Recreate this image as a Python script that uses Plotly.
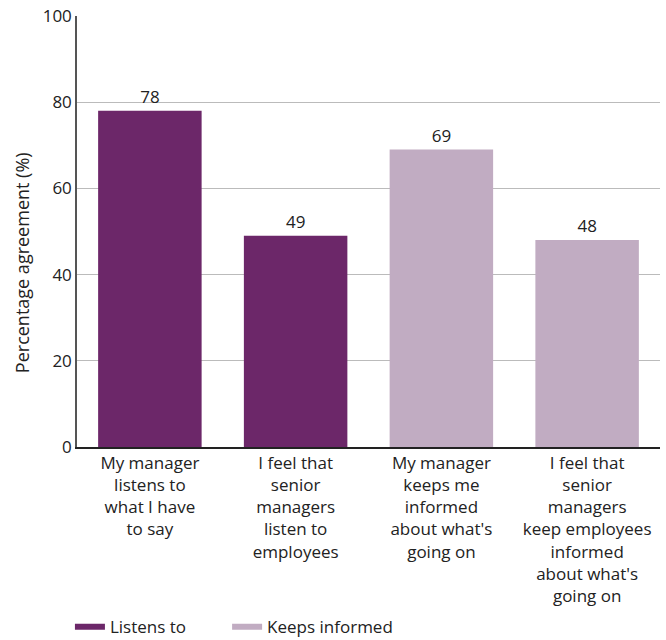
import plotly.graph_objects as go

categories = [
    "My manager<br>listens to<br>what I have<br>to say",
    "I feel that<br>senior<br>managers<br>listen to<br>employees",
    "My manager<br>keeps me<br>informed<br>about what's<br>going on",
    "I feel that<br>senior<br>managers<br>keep employees<br>informed<br>about what's<br>going on",
]
values = [78, 49, 69, 48]
groups = ["Listens to", "Listens to", "Keeps informed", "Keeps informed"]
group_colors = {"Listens to": "#6C2769", "Keeps informed": "#C1ACC2"}
legend_names = ["Listens to", "Keeps informed"]
y_title = "Percentage agreement (%)"

FONT = "'Open Sans', 'Noto Sans', sans-serif"
TEXT = "#222222"

fig = go.Figure()
fig.add_trace(go.Bar(
    x=categories,
    y=values,
    marker=dict(color=[group_colors[g] for g in groups], line=dict(width=0)),
    text=[str(v) for v in values],
    textposition="outside",
    textfont=dict(size=17, color=TEXT, family=FONT),
    cliponaxis=False,
    showlegend=False,
    hoverinfo="x+y",
))

# one legend per group so each entry can sit at its own spot
legend_ids = ["legend", "legend2"]
for name, lid in zip(legend_names, legend_ids):
    fig.add_trace(go.Scatter(
        x=[None], y=[None], mode="lines", name=name, legend=lid,
        line=dict(color=group_colors[name], width=6),
    ))

legend_style = dict(
    orientation="h", xref="container", xanchor="left",
    y=0.02, yref="container", yanchor="middle",
    font=dict(size=17, color=TEXT), bgcolor="rgba(0,0,0,0)",
)

fig.update_layout(
    width=666, height=640,
    margin=dict(l=77, r=6, t=16, b=193, autoexpand=False),
    paper_bgcolor="white", plot_bgcolor="white",
    font=dict(family=FONT, size=17, color=TEXT),
    bargap=0.29,
    legend=dict(x=0.105, **legend_style),
    legend2=dict(x=0.341, **legend_style),
    xaxis=dict(
        showline=True, linecolor="#222222", linewidth=1.5, automargin=False,
        ticks="", tickfont=dict(size=17, color=TEXT), tickangle=0,
    ),
    yaxis=dict(
        range=[0, 100], tickvals=[0, 20, 40, 60, 80, 100], automargin=False,
        showgrid=True, gridcolor="#BBBBBB", gridwidth=1,
        showline=True, linecolor="#555555", linewidth=1.5,
        zeroline=False, ticks="", ticklen=0,
        tickfont=dict(size=17, color=TEXT),
    ),
    annotations=[dict(
        text=y_title, textangle=-90, showarrow=False,
        xref="paper", yref="paper", x=-0.094, y=0.427,
        xanchor="center", yanchor="middle",
        font=dict(size=18, color=TEXT),
    )],
)

fig.write_html("out.html")
